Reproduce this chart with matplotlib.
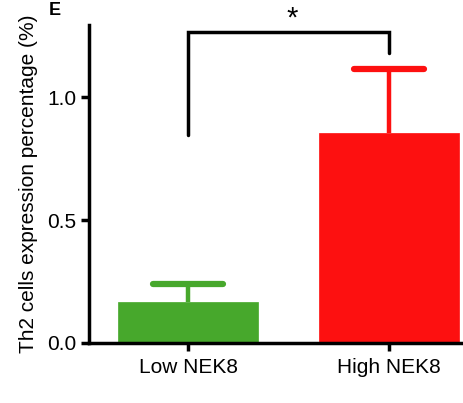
import matplotlib
matplotlib.use("Agg")
import matplotlib.pyplot as plt

plt.rcParams['font.family'] = ['Liberation Sans', 'DejaVu Sans']

categories = ["Low NEK8", "High NEK8"]
means = [0.167, 0.855]
errors = [0.073, 0.26]
colors = ["#47a82c", "#fd1010"]
yticks = [0.0, 0.5, 1.0]
ytick_labels = ["0.0", "0.5", "1.0"]
bracket_y = [0.846, 1.264, 1.264, 1.179]
sig_label = "*"

fig = plt.figure(figsize=(4.64, 4.03), dpi=100)
ax = fig.add_axes([89/464, 1-343/403, 1-89/464, (343-25)/403])

x = list(range(len(categories)))
ax.bar(x, means, width=0.7, color=colors, edgecolor=colors, linewidth=0.5, zorder=2)
cap_half = 0.175
for xi, m, e, c in zip(x, means, errors, colors):
    ax.plot([xi, xi], [m, m + e], color=c, lw=3.2, solid_capstyle='butt', zorder=1)
    ax.plot([xi - cap_half, xi + cap_half], [m + e, m + e], color=c, lw=4.5,
            solid_capstyle='round', zorder=3)

ax.plot([0, 0, 1, 1], bracket_y, color='black', lw=2.5, solid_joinstyle='miter',
        solid_capstyle='round', clip_on=False, zorder=4)
ax.text(0.52, bracket_y[1] + 0.0, sig_label, ha='center', va='bottom', fontsize=21)

ax.set_xlim(-0.4925, 1.373)
ax.set_ylim(0, 1.293)
ax.set_yticks(yticks)
ax.set_yticklabels(ytick_labels)
ax.set_xticks(x)
ax.set_xticklabels(categories)
ax.tick_params(axis='both', direction='out', length=6, width=2.5, labelsize=15, pad=3)
ax.tick_params(axis='x', pad=5)
for s in ['top', 'right']:
    ax.spines[s].set_visible(False)
for s in ['left', 'bottom']:
    ax.spines[s].set_linewidth(2.5)
ax.set_ylabel("Th2 cells expression percentage (%)", fontsize=15, labelpad=7)

fig.text(49/464, 1-2/403, "E", fontsize=13, fontweight='bold', ha='left', va='top')

fig.savefig("out.png", dpi=100)
